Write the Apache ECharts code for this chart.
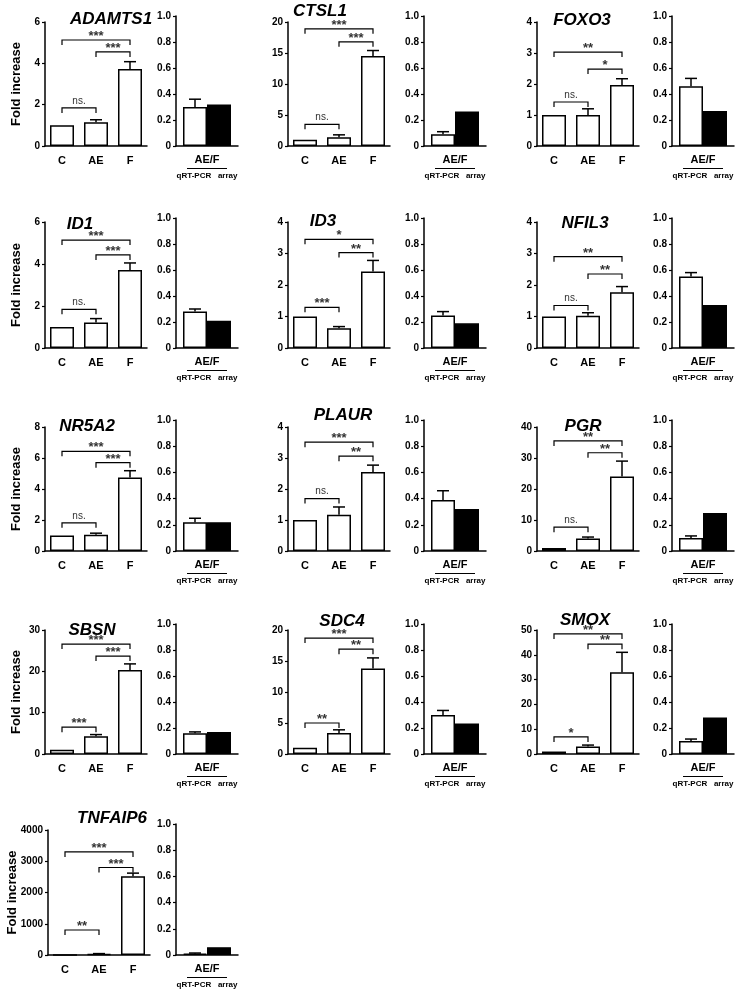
<!DOCTYPE html>
<html><head><meta charset="utf-8">
<script src="https://cdn.jsdelivr.net/npm/echarts@6/dist/echarts.min.js"></script>
<style>html,body{margin:0;padding:0;background:#fff}#c{width:741px;height:992px}</style>
</head><body><div id="c"></div>
<script>
// ---------------- DATA ----------------
const genes = ['ADAMTS1','CTSL1','FOXO3','ID1','ID3','NFIL3','NR5A2','PLAUR','PGR','SBSN','SDC4','SMOX','TNFAIP6'];
const groups = ['C','AE','F'];
const foldMean = [
  [1,1.15,3.72],[1,1.4,14.5],[1,1.0,1.97],
  [1,1.22,3.72],[1,0.63,2.43],[1,1.02,1.77],
  [1,1.05,4.75],[1,1.17,2.55],[1,4.0,24],
  [1,4.3,20.3],[1,3.4,13.8],[1,3.0,33],
  [1,30,2520]
];
const foldErr = [
  [0,0.12,0.36],[0,0.4,0.9],[0,0.2,0.2],
  [0,0.18,0.33],[0,0.05,0.35],[0,0.10,0.18],
  [0,0.10,0.43],[0,0.25,0.22],[0,0.5,5],
  [0,0.4,1.5],[0,0.5,1.7],[0,0.6,8],
  [0,15,100]
];
const foldMax = [6,20,4,6,4,4,8,4,40,30,20,50,4000];
const foldStep = [2,5,1,2,1,1,2,1,10,10,5,10,1000];
const sigBrackets = [
  [[0,1,1.84,'ns.'],[0,2,5.13,'***'],[1,2,4.55,'***']],
  [[0,1,3.5,'ns.'],[0,2,18.9,'***'],[1,2,16.8,'***']],
  [[0,1,1.42,'ns.'],[0,2,3.03,'**'],[1,2,2.48,'*']],
  [[0,1,1.84,'ns.'],[0,2,5.14,'***'],[1,2,4.43,'***']],
  [[0,1,1.29,'***'],[0,2,3.45,'*'],[1,2,3.03,'**']],
  [[0,1,1.35,'ns.'],[0,2,2.9,'**'],[1,2,2.35,'**']],
  [[0,1,1.82,'ns.'],[0,2,6.43,'***'],[1,2,5.7,'***']],
  [[0,1,1.69,'ns.'],[0,2,3.51,'***'],[1,2,3.06,'**']],
  [[0,1,7.7,'ns.'],[0,2,35.5,'**'],[1,2,31.7,'**']],
  [[0,1,6.5,'***'],[0,2,26.6,'***'],[1,2,23.7,'***']],
  [[0,1,5.0,'**'],[0,2,18.7,'***'],[1,2,16.9,'**']],
  [[0,1,6.9,'*'],[0,2,48.4,'**'],[1,2,44.3,'**']],
  [[0,1,800,'**'],[0,2,3300,'***'],[1,2,2800,'***']]
];
const ratioCategory = ['AE/F'];
const qpcrRatio = [0.30,0.09,0.46,0.28,0.25,0.55,0.22,0.39,0.10,0.16,0.30,0.10,0.01];
const qpcrErr  = [0.06,0.02,0.06,0.02,0.03,0.03,0.03,0.07,0.015,0.01,0.035,0.015,0.005];
const arrayRatio = [0.32,0.265,0.27,0.21,0.19,0.33,0.22,0.32,0.29,0.17,0.235,0.28,0.06];
const ratioMax = 1, ratioStep = 0.2;
const yAxisTitle = 'Fold increase';
const methodLabel = 'qRT-PCR   array';

// ---------------- LAYOUT ----------------
const FONT = '"Liberation Sans", Arial, sans-serif';
const colLeftX = [45, 288, 537];
const colRightX = [176, 424, 672];
const rowLeftTop = [22, 222, 427, 630, 830];
const rowRightTop = [16, 218, 420, 624, 824];
const rowBottom = [146, 348, 551, 754, 955];
const titleXY = [[106,16],[315,8],[577,17],[75,221],[318,218],[580,220],[82,423],[338,412],[578,423],[87,627],[337,618],[580,617],[107,815]];

function errItem(offset){
  return function(params, api){
    const x = api.value(0);
    const p0 = api.coord([x, api.value(1)]);
    const p1 = api.coord([x, api.value(2)]);
    const cx = p0[0] + offset;
    return {type:'group', children:[
      {type:'line', shape:{x1:cx,y1:p0[1],x2:cx,y2:p1[1]}, style:{stroke:'#000', lineWidth:1.5}},
      {type:'line', shape:{x1:cx-6,y1:p1[1],x2:cx+6,y2:p1[1]}, style:{stroke:'#000', lineWidth:1.5}}
    ]};
  };
}
function bracketItem(list){
  return function(params, api){
    const b = list[params.dataIndex];
    const a = api.coord([b[0], b[2]]);
    const e = api.coord([b[1], b[2]]);
    const ns = b[3] === 'ns.';
    return {type:'group', children:[
      {type:'polyline', shape:{points:[[a[0],a[1]+5],[a[0],a[1]],[e[0],e[1]],[e[0],e[1]+5]]},
        style:{stroke:'#000', lineWidth:1.2, fill:null}},
      {type:'text', style:{x:(a[0]+e[0])/2, y: ns ? a[1]-2 : a[1]+3, text:b[3], align:'center', verticalAlign:'bottom',
        font: ns ? ('10px ' + FONT) : ('bold 13px ' + FONT), fill:'#333'}}
    ]};
  };
}

const grid = [], xAxis = [], yAxis = [], series = [], title = [];
const axisLineStyle = {show:true, lineStyle:{color:'#000', width:1.5}};
genes.forEach((g, i) => {
  const r = Math.floor(i/3), c = i % 3;
  const gl = 2*i, gr = 2*i+1;
  const wide = foldMax[i] >= 1000;
  const lx = colLeftX[c] + (wide ? 3 : 0);
  grid.push({left: lx, top: rowLeftTop[r], width: 102, height: rowBottom[r]-rowLeftTop[r]});
  grid.push({left: colRightX[c], top: rowRightTop[r], width: 62, height: rowBottom[r]-rowRightTop[r]});
  title.push({text: g, left: titleXY[i][0], top: titleXY[i][1]-10, textAlign:'center',
    textStyle:{fontSize:17, fontWeight:'bold', fontStyle:'italic', color:'#000', fontFamily: FONT}});
  xAxis.push({type:'category', gridIndex: gl, data: groups, axisLine: axisLineStyle, axisTick:{show:false},
    axisLabel:{color:'#000', fontWeight:'bold', fontSize:11, margin:9, fontFamily: FONT}});
  xAxis.push({type:'category', gridIndex: gr, data: ratioCategory, axisLine: axisLineStyle, axisTick:{show:false},
    axisLabel:{margin:8, formatter: v => '{a|' + v + '}\n{u| }\n{b|' + methodLabel + '}',
      rich:{a:{fontSize:11, fontWeight:'bold', color:'#000', lineHeight:12, fontFamily: FONT},
            u:{width:40, height:1, backgroundColor:'#000', lineHeight:5, fontSize:1},
            b:{fontSize:8, fontWeight:'bold', color:'#000', lineHeight:10, fontFamily: FONT}}}});
  const yl = {type:'value', gridIndex: gl, min:0, max: foldMax[i], interval: foldStep[i],
    axisLine: axisLineStyle, axisTick:{show:true, length:3, lineStyle:{color:'#000', width:1.2}}, splitLine:{show:false},
    axisLabel:{color:'#000', fontWeight:'bold', fontSize:10, margin:5, fontFamily: FONT, formatter: v => String(v)}};
  if (c === 0) {
    yl.name = yAxisTitle; yl.nameLocation = 'middle'; yl.nameGap = wide ? 29 : 22; yl.nameRotate = 90;
    yl.nameMoveOverlap = false;
    yl.nameTextStyle = {fontSize:13, fontWeight:'bold', color:'#000', fontFamily: FONT};
  }
  yAxis.push(yl);
  yAxis.push({type:'value', gridIndex: gr, min:0, max: ratioMax, interval: ratioStep,
    axisLine: axisLineStyle, axisTick:{show:true, length:3, lineStyle:{color:'#000', width:1.2}}, splitLine:{show:false},
    axisLabel:{color:'#000', fontWeight:'bold', fontSize:10, margin:5, fontFamily: FONT,
      formatter: v => v === 0 ? '0' : v.toFixed(1)}});
  series.push({type:'bar', xAxisIndex: gl, yAxisIndex: gl, data: foldMean[i], barWidth: 24, silent:true,
    itemStyle:{color:'#fff', borderColor:'#000', borderWidth:1.5}});
  const errData = [];
  foldMean[i].forEach((m, k) => { if (foldErr[i][k] > 0) errData.push([k, m, m + foldErr[i][k]]); });
  series.push({type:'custom', xAxisIndex: gl, yAxisIndex: gl, data: errData, encode:{x:0, y:[1,2]},
    renderItem: errItem(0), silent:true, z:3});
  series.push({type:'custom', xAxisIndex: gl, yAxisIndex: gl, data: sigBrackets[i].map(b => [b[0], b[2]]),
    encode:{x:0, y:1}, renderItem: bracketItem(sigBrackets[i]), silent:true, z:3, clip:false});
  series.push({type:'bar', xAxisIndex: gr, yAxisIndex: gr, data: [qpcrRatio[i]], barWidth: 24, barGap:'0%', silent:true,
    itemStyle:{color:'#fff', borderColor:'#000', borderWidth:1.5}});
  series.push({type:'bar', xAxisIndex: gr, yAxisIndex: gr, data: [arrayRatio[i]], barWidth: 24, barGap:'0%', silent:true,
    itemStyle:{color:'#000', borderColor:'#000', borderWidth:1.5}});
  series.push({type:'custom', xAxisIndex: gr, yAxisIndex: gr, data: [[0, qpcrRatio[i], qpcrRatio[i] + qpcrErr[i]]],
    encode:{x:0, y:[1,2]}, renderItem: errItem(-12), silent:true, z:3});
});

const chart = echarts.init(document.getElementById('c'), null, {renderer:'canvas'});
chart.setOption({animation:false, backgroundColor:'#fff', title, grid, xAxis, yAxis, series});
</script>
</body></html>
